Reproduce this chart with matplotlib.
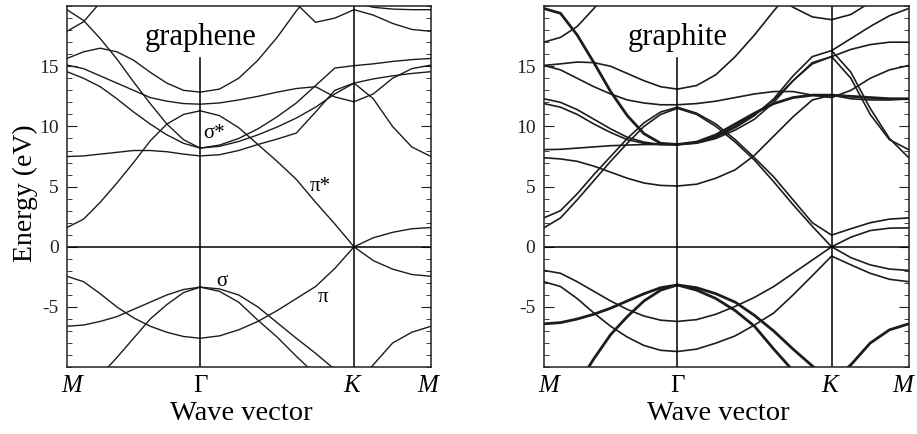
import matplotlib.pyplot as plt
from matplotlib.ticker import MultipleLocator

nan = float('nan')

# ---- k path M - Gamma - K - M (sample points, units of 2pi/a) ----
k_path = [0.0000, 0.0722, 0.1443, 0.2165, 0.2887, 0.3608, 0.4330, 0.5052, 0.5774,
          0.6607, 0.7440, 0.8274, 0.9107, 0.9940, 1.0774, 1.1607, 1.2440,
          1.3274, 1.4107, 1.4940, 1.5774]
sym_k = [0.0, 0.5774, 1.2440, 1.5774]
sym_labels = ['M', 'Γ', 'K', 'M']
y_ticks = [-5, 0, 5, 10, 15]

# ---- graphene bands (eV) ----
gr_pi      = [-2.45, -2.9, -3.9, -5.0, -5.9, -6.6, -7.1, -7.45, -7.6, -7.4, -6.9, -6.2, -5.3, -4.3, -3.3, -1.8, 0.0, -1.15, -1.85, -2.3, -2.45]
gr_pi_star = [1.6, 2.3, 3.7, 5.3, 7.0, 8.8, 10.2, 11.0, 11.3, 10.9, 9.9, 8.5, 7.1, 5.6, 3.7, 1.9, 0.0, 0.75, 1.2, 1.5, 1.6]
gr_sigma1  = [-6.6, -6.5, -6.2, -5.8, -5.2, -4.6, -4.0, -3.55, -3.35, -3.5, -4.0, -5.0, -6.3, -7.6, -8.85, -10.2, -11.5, -9.8, -8.0, -7.1, -6.6]
gr_sigma2  = [nan, -12.2, -10.7, -9.2, -7.6, -6.0, -4.8, -3.8, -3.35, -3.7, -4.6, -6.1, -7.5, -9.1, -10.6, nan, nan, nan, nan, nan, nan]
gr_c1 = [19.7, 18.8, 17.3, 15.6, 13.7, 11.9, 10.2, 8.9, 8.2, 8.45, 9.0, 9.8, 10.8, 11.95, 13.4, 14.85, 15.05, 15.2, 15.4, 15.55, 15.65]
gr_c2 = [14.55, 14.0, 13.3, 12.3, 11.2, 10.2, 9.3, 8.6, 8.2, 8.35, 8.75, 9.3, 9.95, 10.7, 11.6, 12.7, 13.6, 13.95, 14.2, 14.4, 14.55]
gr_c3 = [7.5, 7.55, 7.7, 7.85, 8.0, 8.0, 7.9, 7.7, 7.55, 7.65, 8.0, 8.5, 8.95, 9.45, 11.2, 13.0, 13.6, 12.3, 10.0, 8.3, 7.5]
gr_c4 = [15.1, 14.8, 14.2, 13.6, 13.0, 12.4, 12.1, 11.9, 11.85, 11.95, 12.2, 12.5, 12.85, 13.15, 13.3, 12.45, 12.05, 12.7, 14.0, 14.8, 15.1]
gr_c5 = [15.65, 16.2, 16.5, 16.2, 15.5, 14.5, 13.6, 13.0, 12.85, 13.1, 14.0, 15.5, 17.4, 19.6, 21.5, nan, nan, nan, nan, nan, nan]
gr_c6 = [17.9, 18.7, 20.3, 22.0, nan, nan, nan, nan, nan, nan, nan, nan, 22.0, 20.2, 18.65, 19.0, 19.7, 19.25, 18.56, 18.06, 17.9]
gr_c7 = [nan, nan, nan, nan, nan, nan, nan, nan, nan, nan, nan, nan, nan, nan, nan, 21.2, 20.3, 19.9, 19.75, 19.7, 19.7]

# ---- graphite bands (eV) ----
gt_pi1   = [-1.96, -2.2, -2.9, -3.7, -4.5, -5.2, -5.75, -6.1, -6.2, -6.05, -5.6, -4.95, -4.2, -3.3, -2.2, -1.1, 0.0, -0.9, -1.5, -1.85, -1.96]
gt_pi2   = [-2.9, -3.3, -4.3, -5.5, -6.6, -7.5, -8.2, -8.6, -8.7, -8.5, -8.0, -7.4, -6.5, -5.5, -4.0, -2.4, -0.77, -1.5, -2.2, -2.7, -2.9]
gt_sig1  = [-6.4, -6.3, -6.0, -5.6, -5.1, -4.5, -3.9, -3.4, -3.17, -3.4, -3.9, -4.6, -5.7, -7.0, -8.5, -9.9, -11.2, -9.8, -8.0, -6.9, -6.4]
gt_sig2  = [nan, -13.5, -11.5, -9.3, -7.3, -5.8, -4.5, -3.6, -3.17, -3.6, -4.3, -5.3, -6.6, -8.5, -10.3, -12.0, nan, nan, nan, nan, nan]
gt_piA   = [1.57, 2.4, 3.9, 5.5, 7.1, 8.6, 10.0, 11.0, 11.5, 11.0, 10.0, 8.7, 7.2, 5.4, 3.5, 1.7, 0.0, 0.8, 1.35, 1.55, 1.57]
gt_piB   = [2.4, 3.0, 4.4, 6.0, 7.5, 9.0, 10.3, 11.2, 11.6, 11.1, 10.2, 8.9, 7.4, 5.8, 3.9, 2.0, 0.97, 1.5, 2.0, 2.3, 2.4]
gt_c1    = [19.8, 19.4, 17.6, 15.3, 12.9, 10.9, 9.4, 8.6, 8.5, 8.7, 9.3, 10.2, 11.1, 11.9, 12.4, 12.6, 12.6, 12.5, 12.4, 12.3, 12.3]
gt_c2    = [15.07, 15.2, 15.35, 15.3, 15.0, 14.4, 13.8, 13.3, 13.1, 13.4, 14.3, 15.8, 17.6, 19.6, 21.5, nan, nan, nan, nan, nan, nan]
gt_c3    = [15.07, 14.7, 14.0, 13.3, 12.7, 12.2, 11.95, 11.8, 11.8, 11.9, 12.1, 12.4, 12.7, 12.9, 12.9, 12.6, 12.4, 13.0, 14.0, 14.7, 15.07]
gt_c4    = [12.3, 12.0, 11.4, 10.6, 9.8, 9.1, 8.7, 8.5, 8.5, 8.6, 9.0, 9.7, 10.6, 12.0, 13.8, 15.3, 15.8, 14.0, 11.0, 8.9, 8.07]
gt_c5    = [11.9, 11.6, 11.0, 10.2, 9.5, 8.9, 8.6, 8.5, 8.5, 8.65, 9.1, 9.9, 10.9, 12.3, 14.2, 15.8, 16.3, 14.5, 11.5, 9.0, 7.4]
gt_c6    = [8.07, 8.1, 8.2, 8.3, 8.4, 8.45, 8.5, 8.5, 8.5, 8.7, 9.2, 10.0, 11.0, 12.2, 13.8, 15.2, 15.8, 16.4, 16.8, 17.0, 17.0]
gt_c7    = [7.4, 7.3, 7.1, 6.7, 6.2, 5.7, 5.3, 5.1, 5.05, 5.2, 5.7, 6.4, 7.6, 9.2, 10.8, 12.2, 12.6, 12.3, 12.2, 12.2, 12.3]
gt_c8    = [17.0, 17.4, 18.3, 19.8, 21.5, nan, nan, nan, nan, nan, nan, nan, nan, 21.0, 19.9, 19.1, 18.87, 19.3, 20.3, 21.0, nan]
gt_c9    = [nan, nan, nan, nan, nan, nan, nan, nan, nan, nan, nan, nan, nan, nan, nan, nan, 16.3, 17.3, 18.3, 19.2, 19.8]

graphene_bands = [gr_pi, gr_pi_star, gr_sigma1, gr_sigma2,
                  gr_c1, gr_c2, gr_c3, gr_c4, gr_c5, gr_c6, gr_c7]
graphite_bands = [gt_pi1, gt_pi2, gt_sig1, gt_sig2, gt_piA, gt_piB,
                  gt_c1, gt_c2, gt_c3, gt_c4, gt_c5, gt_c6, gt_c7, gt_c8, gt_c9]
# nearly degenerate pairs in graphite show up as heavy lines
graphite_thick = [gt_sig1, gt_sig2, gt_c1]

# band labels in the graphene panel: (text, k, E)
band_labels = [('σ*', 0.637, 9.4), ('π*', 1.099, 5.0), ('σ', 0.670, -2.85), ('π', 1.111, -4.2)]

plt.rcParams['font.family'] = ['Liberation Serif', 'DejaVu Serif']
plt.rcParams['axes.unicode_minus'] = False

fig = plt.figure(figsize=(9.17, 4.34), dpi=100)
ax1 = fig.add_axes([0.073, 0.154, 0.397, 0.832])
ax2 = fig.add_axes([0.593, 0.154, 0.398, 0.832])


def draw_panel(ax, bands, name, thick=(), lw_base=1.0, last_shift=-3):
    for band in bands:
        lw = 2.0 if any(band is t for t in thick) else lw_base
        ax.plot(k_path, band, color='#1c1c1c', lw=lw)
    ax.axhline(0, color='black', lw=1.1)
    # Gamma line stops below the panel name, K line runs full height
    ax.axvline(sym_k[1], ymax=0.857, color='black', lw=1.1)
    ax.axvline(sym_k[2], color='black', lw=1.1)
    ax.text(sym_k[1], 17.4, name, fontsize=22, ha='center', va='center')
    ax.set_xlim(sym_k[0], sym_k[-1])
    ax.set_ylim(-10, 20)
    ax.set_yticks(y_ticks)
    ax.yaxis.set_minor_locator(MultipleLocator(1))
    ax.tick_params(axis='y', which='both', direction='in', left=True, right=True,
                   labelsize=14, pad=6, colors='#222222')
    ax.tick_params(axis='y', which='major', length=7)
    ax.tick_params(axis='y', which='minor', length=3.5)
    ax.set_xticks([])
    # symmetry point labels under the axis
    shifts = [5, 0, -2, last_shift]
    for k, lab, dx in zip(sym_k, sym_labels, shifts):
        style = 'normal' if lab == 'Γ' else 'italic'
        ax.annotate(lab, xy=(k, 0), xycoords=('data', 'axes fraction'),
                    xytext=(dx, -8), textcoords='offset pixels',
                    ha='center', va='top', fontsize=18, fontstyle=style)
    ax.set_xlabel('Wave vector', fontsize=20.5)
    ax.xaxis.set_label_coords(0.479, -0.093)
    for sp in ax.spines.values():
        sp.set_linewidth(1.1)
        sp.set_color('#222222')


draw_panel(ax1, graphene_bands, 'graphene')
draw_panel(ax2, graphite_bands, 'graphite', thick=graphite_thick, lw_base=1.2, last_shift=-6)
ax1.set_ylabel('Energy (eV)', fontsize=20)
ax1.yaxis.set_label_coords(-0.080, 0.482)

for text, k, e in band_labels:
    ax1.text(k, e, text, fontsize=15, ha='center', va='center')

fig.savefig('out.png', dpi=100)
